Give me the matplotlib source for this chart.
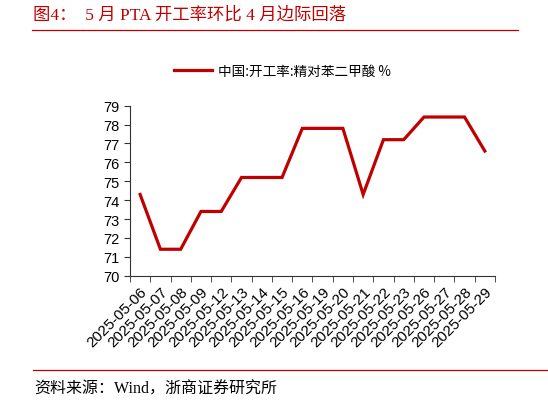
import matplotlib.pyplot as plt
import numpy as np

plt.rcParams['font.family'] = ['Liberation Sans', 'Noto Sans CJK SC']

dates = ["2025-05-06", "2025-05-07", "2025-05-08", "2025-05-09", "2025-05-12",
         "2025-05-13", "2025-05-14", "2025-05-15", "2025-05-16", "2025-05-19",
         "2025-05-20", "2025-05-21", "2025-05-22", "2025-05-23", "2025-05-26",
         "2025-05-27", "2025-05-28", "2025-05-29"]
pta_rate = [74.3, 71.4, 71.4, 73.4, 73.4, 75.2, 75.2, 75.2, 77.8, 77.8,
            77.8, 74.3, 77.2, 77.2, 78.4, 78.4, 78.4, 76.6]
series_name = "中国:开工率:精对苯二甲酸 %"
title = "图4：  5 月 PTA 开工率环比 4 月边际回落"
source = "资料来源：Wind，浙商证券研究所"

red = "#C00000"

fig = plt.figure(figsize=(5.48, 4.02), dpi=100)
ax = fig.add_axes([0.2372, 0.3117, 0.666, 0.4229])

x = np.arange(len(dates))
ax.plot(x, pta_rate, color=red, lw=2.3, label=series_name, solid_joinstyle="miter")

ax.set_xlim(-0.5, len(dates) - 0.5)
ax.set_ylim(70, 79)
ax.set_yticks(range(70, 80))
ax.set_xticks(x)
ax.set_xticklabels(dates, rotation=45, ha="right", rotation_mode="anchor")
ax.set_xticks(np.arange(-0.5, len(dates)), minor=True)
ax.tick_params(axis="x", which="major", length=0, pad=6, labelsize=11)
ax.tick_params(axis="x", which="minor", length=4, color="#333333")
ax.tick_params(axis="y", length=4, labelsize=10.5, color="#333333")

for s in ["top", "right"]:
    ax.spines[s].set_visible(False)
for s in ["left", "bottom"]:
    ax.spines[s].set_color("#333333")
    ax.spines[s].set_linewidth(0.8)

fig.legend(loc="center", bbox_to_anchor=(0.515, 0.822), frameon=False,
           handlelength=2.8, handletextpad=0.45,
           prop={"family": ["Noto Sans CJK SC"], "size": 9.8})

fig.text(0.06, 0.962, title, color=red, fontsize=12.5, va="center",
         family=["Liberation Serif", "Noto Sans CJK SC"])
fig.add_artist(plt.Line2D([32 / 548, 518 / 548], [1 - 31 / 402] * 2,
                          color=red, lw=0.9, transform=fig.transFigure))
fig.add_artist(plt.Line2D([33 / 548, 1.0], [1 - 371 / 402] * 2,
                          color=red, lw=0.9, transform=fig.transFigure))
fig.text(0.063, 1 - 390 / 402, source, fontsize=11.5, va="center",
         family=["Liberation Serif", "Noto Sans CJK SC"])

plt.savefig("out.png", dpi=100)
